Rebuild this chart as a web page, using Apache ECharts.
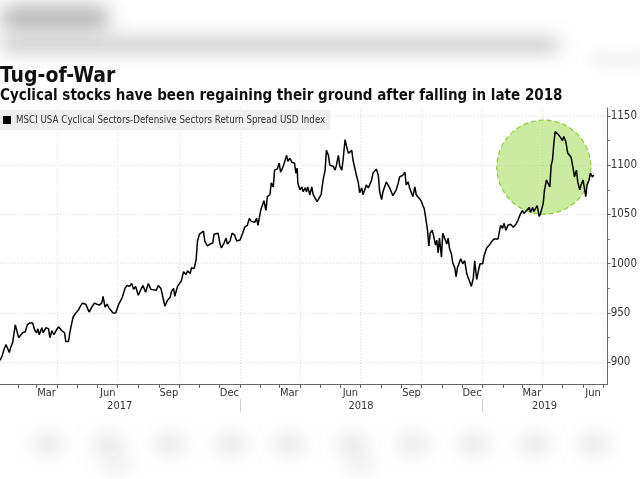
<!DOCTYPE html>
<html><head><meta charset="utf-8">
<script src="https://cdn.jsdelivr.net/npm/echarts@6/dist/echarts.min.js"></script>
<style>html,body{margin:0;padding:0;background:#fff}#c{width:640px;height:479px}</style>
</head><body><div id="c"></div>
<script>
const dates = [
'2017-01-05','2017-01-08','2017-01-11','2017-01-14','2017-01-16','2017-01-19','2017-01-21','2017-01-24','2017-01-28','2017-01-30',
'2017-02-02','2017-02-04','2017-02-08','2017-02-12','2017-02-15','2017-02-19','2017-02-23','2017-02-26','2017-03-01','2017-03-03',
'2017-03-05','2017-03-09','2017-03-11','2017-03-15','2017-03-19','2017-03-21','2017-03-24','2017-03-27','2017-03-31','2017-04-03',
'2017-04-08','2017-04-12','2017-04-14','2017-04-18','2017-04-20','2017-04-23','2017-04-25','2017-04-29','2017-05-03','2017-05-05',
'2017-05-09','2017-05-12','2017-05-14','2017-05-17','2017-05-19','2017-05-23','2017-05-27','2017-05-30','2017-06-03','2017-06-07',
'2017-06-09','2017-06-12','2017-06-15','2017-06-18','2017-06-21','2017-06-24','2017-06-28','2017-07-02','2017-07-05','2017-07-08',
'2017-07-12','2017-07-15','2017-07-19','2017-07-22','2017-07-25','2017-07-28','2017-08-01','2017-08-05','2017-08-08','2017-08-12',
'2017-08-16','2017-08-20','2017-08-23','2017-08-28','2017-08-31','2017-09-04','2017-09-06','2017-09-08','2017-09-10','2017-09-14',
'2017-09-18','2017-09-20','2017-09-23','2017-09-25','2017-09-29','2017-10-02','2017-10-05','2017-10-08','2017-10-12','2017-10-14',
'2017-10-18','2017-10-20','2017-10-24','2017-10-27','2017-10-29','2017-11-01','2017-11-04','2017-11-07','2017-11-09','2017-11-13',
'2017-11-17','2017-11-21','2017-11-23','2017-11-26','2017-11-29','2017-12-02','2017-12-04','2017-12-08','2017-12-11','2017-12-13',
'2017-12-17','2017-12-20','2017-12-24','2017-12-27','2018-01-01','2018-01-05','2018-01-08','2018-01-12','2018-01-15','2018-01-18',
'2018-01-21','2018-01-23','2018-01-26','2018-01-28','2018-02-01','2018-02-04','2018-02-06','2018-02-09','2018-02-11','2018-02-15',
'2018-02-17','2018-02-20','2018-02-22','2018-02-26','2018-03-01','2018-03-03','2018-03-06','2018-03-09','2018-03-12','2018-03-14',
'2018-03-17','2018-03-20','2018-03-22','2018-03-24','2018-03-26','2018-03-28','2018-03-29','2018-04-01','2018-04-04','2018-04-06',
'2018-04-09','2018-04-11','2018-04-13','2018-04-16','2018-04-19','2018-04-21','2018-04-24','2018-04-27','2018-04-30','2018-05-03',
'2018-05-06','2018-05-09','2018-05-11','2018-05-14','2018-05-16','2018-05-19','2018-05-21','2018-05-24','2018-05-26','2018-05-29',
'2018-05-31','2018-06-03','2018-06-05','2018-06-08','2018-06-10','2018-06-13','2018-06-15','2018-06-18','2018-06-20','2018-06-23',
'2018-06-25','2018-06-28','2018-06-30','2018-07-03','2018-07-05','2018-07-08','2018-07-10','2018-07-13','2018-07-15','2018-07-18',
'2018-07-20','2018-07-23','2018-07-25','2018-07-28','2018-07-30','2018-08-02','2018-08-04','2018-08-07','2018-08-09','2018-08-12',
'2018-08-14','2018-08-17','2018-08-19','2018-08-22','2018-08-24','2018-08-27','2018-08-29','2018-09-01','2018-09-03','2018-09-06',
'2018-09-08','2018-09-11','2018-09-13','2018-09-16','2018-09-18','2018-09-21','2018-09-23','2018-09-26','2018-09-28','2018-10-01',
'2018-10-03','2018-10-05','2018-10-07','2018-10-10','2018-10-12','2018-10-14','2018-10-17','2018-10-19','2018-10-22','2018-10-24',
'2018-10-26','2018-10-28','2018-10-31','2018-11-02','2018-11-05','2018-11-08','2018-11-10','2018-11-12','2018-11-15','2018-11-17',
'2018-11-20','2018-11-22','2018-11-24','2018-11-26','2018-11-29','2018-12-02','2018-12-05','2018-12-08','2018-12-10','2018-12-13',
'2018-12-15','2018-12-18','2018-12-20','2018-12-23','2018-12-25','2018-12-28','2019-01-01','2019-01-03','2019-01-07','2019-01-11',
'2019-01-14','2019-01-18','2019-01-21','2019-01-24','2019-01-28','2019-01-31','2019-02-02','2019-02-05','2019-02-08','2019-02-12',
'2019-02-16','2019-02-20','2019-02-23','2019-02-27','2019-03-02','2019-03-04','2019-03-08','2019-03-12','2019-03-14','2019-03-17',
'2019-03-19','2019-03-22','2019-03-24','2019-03-27','2019-03-29','2019-04-02','2019-04-04','2019-04-07','2019-04-09','2019-04-12',
'2019-04-14','2019-04-16','2019-04-18','2019-04-20','2019-04-23','2019-04-25','2019-04-28','2019-05-01','2019-05-03','2019-05-06',
'2019-05-07','2019-05-09','2019-05-12','2019-05-14','2019-05-17','2019-05-19','2019-05-22','2019-05-24','2019-05-27','2019-05-29',
'2019-06-01','2019-06-04','2019-06-05','2019-06-07','2019-06-10','2019-06-12','2019-06-15','2019-06-17'
];
const values = [
902,906,913,918,916,910,915,920,938,936,
925,926,930,931,938,940,940,933,930,934,
928,935,930,935,934,925,932,928,933,936,
932,930,921,921,930,940,946,950,953,956,
960,962,959,961,951,956,960,962,958,960,
967,956,959,955,957,950,950,958,960,966,
975,978,977,980,974,977,968,974,978,971,
980,974,976,973,978,975,976,963,957,963,
966,972,975,967,977,980,983,992,989,993,
990,996,995,1004,1023,1030,1028,1033,1023,1018,
1020,1021,1030,1029,1031,1020,1016,1021,1026,1020,
1023,1031,1029,1023,1024,1031,1037,1039,1046,1043,
1045,1042,1046,1039,1054,1053,1064,1054,1068,1070,
1082,1078,1095,1096,1102,1093,1097,1103,1110,1104,
1107,1103,1104,1102,1092,1097,1082,1075,1078,1073,
1077,1073,1078,1070,1078,1070,1068,1063,1063,1070,
1085,1095,1115,1110,1100,1102,1099,1095,1100,1110,
1099,1095,1105,1126,1120,1112,1113,1115,1105,1103,
1090,1082,1072,1077,1070,1070,1080,1077,1080,1085,
1092,1093,1096,1090,1073,1065,1073,1075,1083,1081,
1077,1075,1069,1070,1075,1082,1088,1089,1090,1093,
1080,1083,1077,1078,1068,1078,1070,1070,1066,1063,
1059,1056,1048,1034,1018,1031,1034,1029,1019,1024,
1011,1026,1007,1031,1029,1020,1026,1016,1010,1001,
996,987,996,995,1005,1000,1003,990,986,981,
977,986,1003,984,991,1000,1000,1008,1016,1019,
1022,1025,1027,1025,1039,1036,1041,1034,1039,1040,
1037,1040,1044,1051,1054,1051,1054,1057,1052,1057,
1053,1055,1059,1048,1051,1061,1075,1085,1082,1078,
1100,1105,1122,1134,1132,1131,1130,1125,1129,1124,
1125,1112,1113,1108,1097,1088,1095,1083,1075,1080,
1085,1083,1068,1080,1085,1092,1088,1090
];
const seriesName = 'MSCI USA Cyclical Sectors-Defensive Sectors Return Spread USD Index';
const yTicks = [900, 950, 1000, 1050, 1100, 1150];
const yMinorTicks = [925, 975, 1025, 1075, 1125];
const monthStarts = [
'2017-02-01','2017-03-01','2017-04-01','2017-05-01','2017-06-01','2017-07-01','2017-08-01','2017-09-01','2017-10-01','2017-11-01','2017-12-01',
'2018-01-01','2018-02-01','2018-03-01','2018-04-01','2018-05-01','2018-06-01','2018-07-01','2018-08-01','2018-09-01','2018-10-01','2018-11-01','2018-12-01',
'2019-01-01','2019-02-01','2019-03-01','2019-04-01','2019-05-01','2019-06-01','2019-07-01'
];
const quarterStarts = ['2017-04-01','2017-07-01','2017-10-01','2018-01-01','2018-04-01','2018-07-01','2018-10-01','2019-01-01','2019-04-01','2019-07-01'];
const monthLabelDates = ['2017-03-16','2017-06-16','2017-09-16','2017-12-16','2018-03-16','2018-06-16','2018-09-16','2018-12-16','2019-03-16','2019-06-16'];
const monthLabels = ['Mar','Jun','Sep','Dec','Mar','Jun','Sep','Dec','Mar','Jun'];
const yearLabelDates = ['2017-07-04','2018-07-02','2019-04-04'];
const yearLabels = ['2017','2018','2019'];
const yearBreaks = ['2018-01-01','2019-01-01'];
const highlightPoint = ['2019-04-03', 1098];

function ts(s) { const p = s.split('-'); return new Date(+p[0], +p[1] - 1, +p[2]).getTime(); }
const monthLabelMap = {}; monthLabelDates.forEach((d, i) => monthLabelMap[ts(d)] = monthLabels[i]);
const yearLabelMap = {}; yearLabelDates.forEach((d, i) => yearLabelMap[ts(d)] = yearLabels[i]);

const xMin = ts('2017-01-05'), xMax = ts('2019-07-08');
const FONT = 'DejaVu Sans Condensed';
const baseX = { type: 'value', min: xMin, max: xMax, gridIndex: 0, scale: true };

function blob(x, y, w, h, color, blur) {
  return { type: 'rect', silent: true, shape: { x: x, y: y - 1000, width: w, height: h, r: h / 2 },
    style: { fill: color, shadowColor: color, shadowBlur: blur, shadowOffsetY: 1000 } };
}
const graphics = [
  blob(0, 6, 110, 24, 'rgba(150,150,150,0.85)', 20),
  blob(0, 38, 560, 14, 'rgba(175,175,175,0.85)', 18),
  blob(590, 55, 60, 8, 'rgba(200,200,200,0.6)', 14)
];
[48,108,170,231,289,352,413,474,535,594].forEach((x, i) => {
  graphics.push(blob(x - 14, 436, 28, 16, 'rgba(200,200,200,0.75)', 18));
  if (i === 1 || i === 5) graphics.push(blob(x - 4, 457, 24, 14, 'rgba(200,200,200,0.65)', 18));
});

const chart = echarts.init(document.getElementById('c'), null, { renderer: 'canvas' });
chart.setOption({
  backgroundColor: '#ffffff',
  animation: false,
  textStyle: { fontFamily: FONT },
  title: [
    { text: 'Tug-of-War', left: 0, top: 66, padding: 0,
      textStyle: { fontFamily: FONT, fontWeight: 'bold', fontSize: 21, color: '#111' } },
    { text: 'Cyclical stocks have been regaining their ground after falling in late 2018', left: 0, top: 89, padding: 0,
      textStyle: { fontFamily: FONT, fontWeight: 'bold', fontSize: 15, color: '#111' } }
  ],
  legend: {
    left: 0, top: 110, padding: [5, 5, 5, 3], itemGap: 4,
    backgroundColor: '#efefef', itemWidth: 8, itemHeight: 8, icon: 'rect',
    textStyle: { fontFamily: FONT, fontSize: 9.7, color: '#333' },
    data: [{ name: seriesName, itemStyle: { color: '#000' } }]
  },
  graphic: graphics,
  grid: { left: 0, right: 32, top: 108, bottom: 95, containLabel: false },
  xAxis: [
    Object.assign({}, baseX, {
      axisLine: { show: true, lineStyle: { color: '#666', width: 1 } },
      axisTick: { show: true, length: 4, customValues: monthStarts.map(ts), lineStyle: { color: '#666' } },
      axisLabel: { show: true, customValues: monthLabelDates.map(ts), margin: 4, fontSize: 11, color: '#333', fontFamily: FONT,
        formatter: v => monthLabelMap[v] || '' },
      splitLine: { show: false }
    }),
    Object.assign({}, baseX, {
      axisLine: { show: false },
      axisTick: { show: false, customValues: quarterStarts.map(ts) },
      axisLabel: { show: false },
      splitLine: { show: true, lineStyle: { color: '#dcdcdc', type: [1, 2], width: 1 } }
    }),
    Object.assign({}, baseX, {
      position: 'bottom', offset: 15,
      axisLine: { show: false },
      axisTick: { show: true, length: 13, customValues: yearBreaks.map(ts), lineStyle: { color: '#cfcfcf' } },
      axisLabel: { show: true, customValues: yearLabelDates.map(ts), margin: 2, fontSize: 11, color: '#333', fontFamily: FONT,
        formatter: v => yearLabelMap[v] || '' },
      splitLine: { show: false }
    })
  ],
  yAxis: [
    { type: 'value', position: 'right', min: 878, max: 1158,
      axisLine: { show: true, lineStyle: { color: '#666' } },
      axisTick: { show: true, length: 3, customValues: yTicks, lineStyle: { color: '#666' } },
      axisLabel: { show: true, customValues: yTicks, margin: 3, fontSize: 11.5, color: '#333', fontFamily: FONT,
        formatter: v => String(v) },
      splitLine: { show: true, lineStyle: { color: '#dcdcdc', type: [1, 2], width: 1 } }
    },
    { type: 'value', position: 'right', min: 878, max: 1158,
      axisLine: { show: false },
      axisTick: { show: true, length: 2, customValues: yMinorTicks, lineStyle: { color: '#666' } },
      axisLabel: { show: false },
      splitLine: { show: false }
    }
  ],
  series: [
    { name: 'highlight', type: 'scatter', xAxisIndex: 0, yAxisIndex: 0, z: 1, silent: true,
      symbol: 'circle', symbolSize: 94,
      itemStyle: { color: 'rgba(160,218,85,0.55)', borderColor: '#8fd13a', borderWidth: 1.3, borderType: [5, 3], opacity: 1 },
      data: [[ts(highlightPoint[0]), highlightPoint[1]]] },
    { name: seriesName, type: 'line', xAxisIndex: 0, yAxisIndex: 0, z: 3, showSymbol: false, symbol: 'none',
      lineStyle: { color: '#000', width: 1.5 }, itemStyle: { color: '#000' },
      data: dates.map((d, i) => [ts(d), values[i]]) }
  ]
});
</script>
</body></html>
